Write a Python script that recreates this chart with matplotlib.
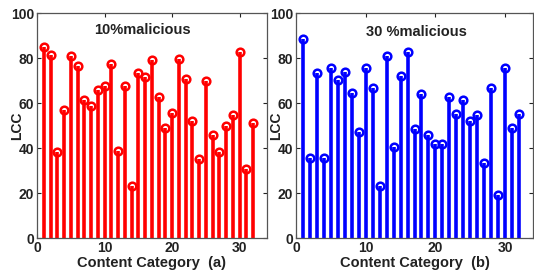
import matplotlib.pyplot as plt
import numpy as np

plt.rcParams['font.family'] = ['Liberation Sans', 'DejaVu Sans']
plt.rcParams['font.weight'] = 'bold'

categories = list(range(1, 33))
lcc_10 = [85.2, 81.5, 38.4, 57.0, 81.0, 76.7, 61.6, 59.0, 65.8, 67.7, 77.5, 39.0,
          67.7, 23.3, 73.3, 71.6, 79.4, 63.0, 49.2, 55.9, 79.7, 70.8, 52.1, 35.4,
          69.8, 45.9, 38.5, 50.0, 54.8, 82.7, 30.8, 51.4]
lcc_30 = [88.7, 35.9, 73.5, 35.7, 75.9, 70.2, 73.9, 64.4, 47.3, 75.7, 66.8, 23.4,
          81.2, 40.7, 72.3, 82.7, 48.7, 64.1, 46.1, 41.8, 42.1, 62.7, 55.3, 61.6,
          52.3, 54.8, 33.5, 67.0, 19.3, 75.9, 49.0, 55.3]

fig = plt.figure(figsize=(5.34, 2.78), dpi=100)
W, H = 534.0, 278.0

panels = [
    (lcc_10, 'red', '10%malicious', '(a)', [37, 13.3, 266.7, 238.3], 0.457, 0.926),
    (lcc_30, 'blue', '30 %malicious', '(b)', [296, 13.3, 533, 238.3], 0.51, 0.917),
]

for vals, col, title, tag, box, tx, ty in panels:
    x0, y0, x1, y1 = box
    ax = fig.add_axes([x0 / W, 1 - y1 / H, (x1 - x0) / W, (y1 - y0) / H])
    ml, sl, bl = ax.stem(categories, vals, linefmt='-', markerfmt='o', basefmt=' ')
    plt.setp(sl, color=col, linewidth=2.6)
    plt.setp(ml, color=col, markersize=5.5, markerfacecolor='none', markeredgewidth=1.8)
    ax.set_xlim(0, 34)
    ax.set_ylim(0, 100)
    ax.set_xticks([0, 10, 20, 30])
    ax.set_yticks([0, 20, 40, 60, 80, 100])
    ax.tick_params(direction='in', top=True, right=True, labelsize=10,
                   length=3, width=0.8, colors='#222222', pad=2)
    for s in ax.spines.values():
        s.set_color('#555555')
        s.set_linewidth(0.9)
    ax.text(tx, ty, title, transform=ax.transAxes, ha='center', va='center',
            fontsize=10.5, fontweight='bold', color='#222222')
    ax.set_xlabel('Content Category  ' + tag, fontsize=10.5, fontweight='bold',
                  color='#222222', labelpad=1)
    ax.set_ylabel('LCC', fontsize=10, fontweight='bold', color='#222222')
    ax.yaxis.set_label_coords(-0.055, 0.5)

fig.savefig('out.png', dpi=100)
